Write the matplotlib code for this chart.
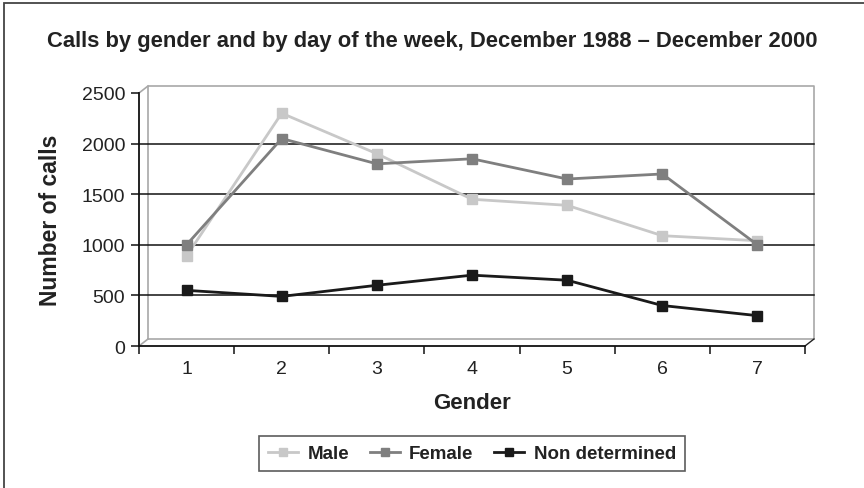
import matplotlib
matplotlib.use("Agg")
import matplotlib.pyplot as plt
from matplotlib.patches import Rectangle

plt.rcParams['font.family'] = ['Liberation Sans', 'DejaVu Sans']

categories = [1, 2, 3, 4, 5, 6, 7]
male = [890, 2300, 1900, 1450, 1390, 1090, 1040]
female = [1000, 2050, 1800, 1850, 1650, 1700, 1000]
non_determined = [550, 490, 600, 700, 650, 400, 300]
y_ticks = [0, 500, 1000, 1500, 2000, 2500]

title = "Calls by gender and by day of the week, December 1988 \u2013 December 2000"

fig = plt.figure(figsize=(8.64, 4.89), dpi=100)
ax = fig.add_axes([139/864, 1-347/489, (805-139)/864, (347-94)/489])
ax.set_xlim(0.5, 7.5)
ax.set_ylim(0, 2500)
for s in ax.spines.values():
    s.set_visible(False)

# depth offset of the back wall (in data units)
dx = 9 / ((805-139)/7)
dy = 7 / ((347-94)/2500)
wall = '#a8a8a8'
x0, x1 = 0.5, 7.5
ax.plot([x0+dx, x1+dx, x1+dx, x0+dx, x0+dx], [dy, dy, 2500+dy, 2500+dy, dy],
        color=wall, lw=1.2, clip_on=False, zorder=1)
ax.plot([x0, x0+dx], [2500, 2500+dy], color=wall, lw=1.2, clip_on=False, zorder=1)
ax.plot([x0, x0+dx], [0, dy], color=wall, lw=1.2, clip_on=False, zorder=1)
ax.plot([x1, x1+dx], [0, dy], color='#222222', lw=1.0, clip_on=False, zorder=1)
for v in y_ticks[1:-1]:
    ax.plot([x0, x1+dx], [v, v], color='#111111', lw=1.1, clip_on=False, zorder=2)
ax.plot([x0, x0], [0, 2500], color='#111111', lw=1.3, clip_on=False, zorder=3)
ax.plot([x0, x1], [0, 0], color='#111111', lw=1.3, clip_on=False, zorder=3)

series = [("Male", male, '#c8c8c8'),
          ("Female", female, '#7f7f7f'),
          ("Non determined", non_determined, '#1a1a1a')]
handles = []
for name, vals, col in series:
    h, = ax.plot(categories, vals, color=col, lw=2.0, marker='s', markersize=7,
                 markeredgecolor=col, markerfacecolor=col, zorder=5, clip_on=False,
                 label=name)
    handles.append(h)

ax.set_yticks(y_ticks)
ax.set_yticklabels([str(v) for v in y_ticks])
ax.set_xticks([c - 0.5 for c in categories] + [7.5])
ax.set_xticklabels([])
ax.set_xticks(categories, minor=True)
ax.set_xticklabels([str(c) for c in categories], minor=True)
ax.tick_params(axis='x', which='major', direction='out', length=6, width=1.1, color='#111111')
ax.tick_params(axis='x', which='minor', length=0, pad=10)
ax.tick_params(axis='y', direction='out', length=6, width=1.1, color='#111111', pad=4)
for lab in ax.get_yticklabels() + ax.get_xticklabels(minor=True):
    lab.set_color('#222222')
    lab.set_fontsize(14)

ax.set_xlabel("Gender", fontsize=16, fontweight='bold', color='#222222', labelpad=11)
ax.set_ylabel("Number of calls", fontsize=16.5, fontweight='bold', color='#222222', labelpad=14)

fig.text(432/864, 1-41/489, title, ha='center', va='center', fontsize=15.8,
         fontweight='bold', color='#222222')

leg = fig.legend(handles=handles, loc='center', bbox_to_anchor=(472/864, 1-454.5/489),
                 ncol=3, frameon=True, fancybox=False,
                 prop={'weight': 'bold', 'size': 13.5}, handlelength=1.6,
                 columnspacing=1.1, handletextpad=0.5, borderpad=0.5, borderaxespad=0)
leg.get_frame().set_edgecolor('#333333')
leg.get_frame().set_linewidth(1.2)
for h in leg.legend_handles:
    h.set_markersize(6)
for t in leg.get_texts():
    t.set_color('#222222')

fig.add_artist(Rectangle((4/864, -0.02), 1.1, 1-4/489 + 0.02, transform=fig.transFigure,
                         fill=False, edgecolor='#444444', lw=1.3))

fig.savefig("out.png", dpi=100)
